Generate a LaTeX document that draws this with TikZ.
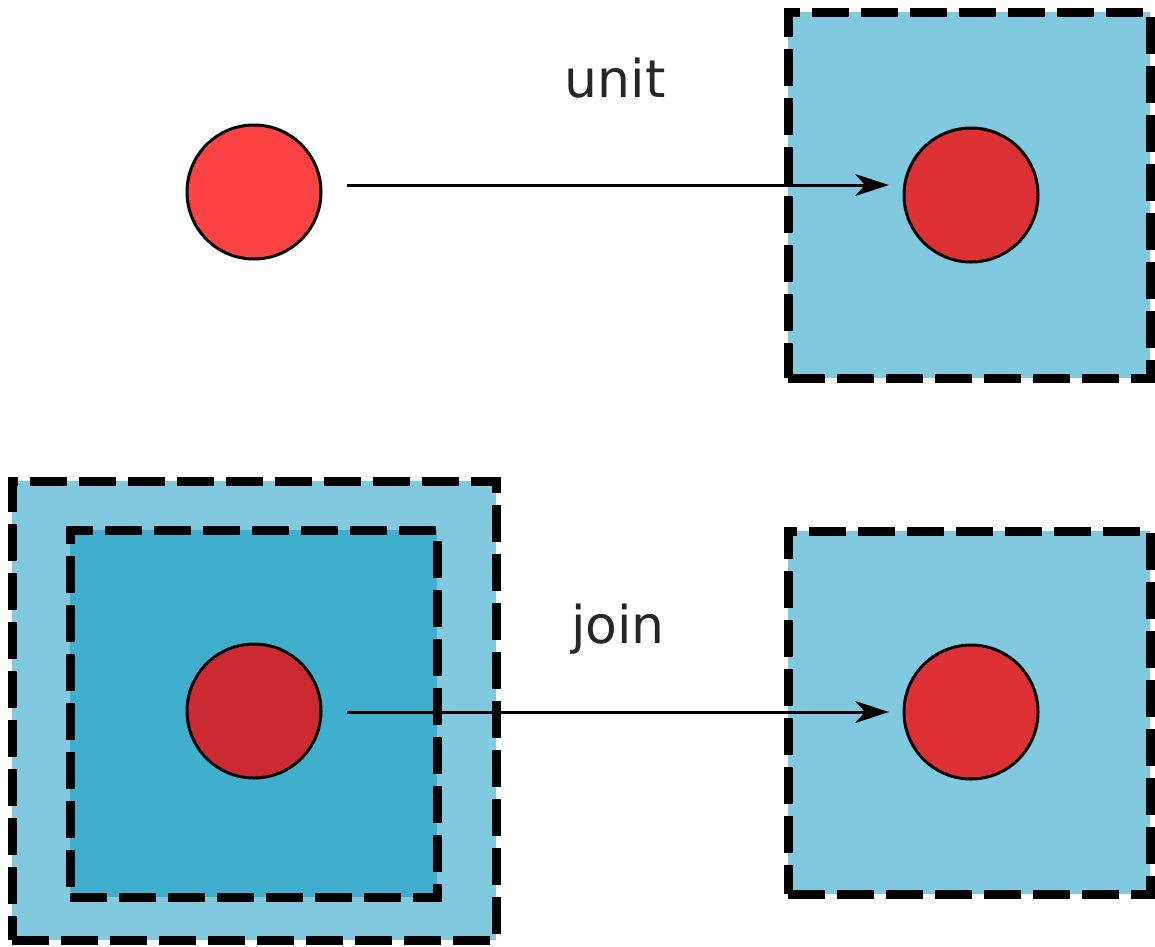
\documentclass[tikz,border=0pt]{standalone}
\usepackage{fontspec}
\setmainfont{DejaVu Sans}
\usetikzlibrary{arrows.meta}
\definecolor{lightblue}{HTML}{80C9DF}
\definecolor{darkblue}{HTML}{40AFCE}
\definecolor{redA}{HTML}{FC4242}
\definecolor{redB}{HTML}{DE3136}
\definecolor{redC}{HTML}{CC2A32}
\begin{document}
\begin{tikzpicture}[x=1pt,y=-1pt,
  box/.style={draw=black,line width=9pt,dash pattern=on 37pt off 12pt,rectangle,inner sep=0pt},
  ball/.style={circle,draw=black,line width=3pt,minimum size=134pt,inner sep=0pt},
  arr/.style={line width=3pt,-{Stealth[length=34pt,width=22pt,inset=10pt]},shorten >=14pt},
  lbl/.style={font=\fontsize{52}{60}\selectfont,anchor=base,text=black!85}]
\useasboundingbox (0,0) rectangle (1155,946);
% top row
\node[box,fill=lightblue,minimum width=362pt,minimum height=366pt] (b1) at (969,195) {};
\node[ball,fill=redA] (c1) at (254,192) {};
\node[ball,fill=redB] (c2) at (971,195) {};
\coordinate (s1) at (347,185);
\coordinate (t1) at (903,185);
\draw[arr] (s1) -- (t1);
\node[lbl] (unit) at (615,97) {unit};
% bottom row
\node[box,fill=lightblue,minimum width=484pt,minimum height=459pt] (b2) at (254,710.5) {};
\node[box,fill=darkblue,minimum width=367pt,minimum height=367pt] (b3) at (253.5,713.5) {};
\node[box,fill=lightblue,minimum width=362pt,minimum height=363pt] (b4) at (969,712.5) {};
\node[ball,fill=redC] (c3) at (254,711) {};
\node[ball,fill=redB] (c4) at (971,712) {};
\coordinate (s2) at (347,712);
\coordinate (t2) at (903,712);
\draw[arr] (s2) -- (t2);
\node[lbl] (join) at (618,643) {join};
\end{tikzpicture}
\end{document}
